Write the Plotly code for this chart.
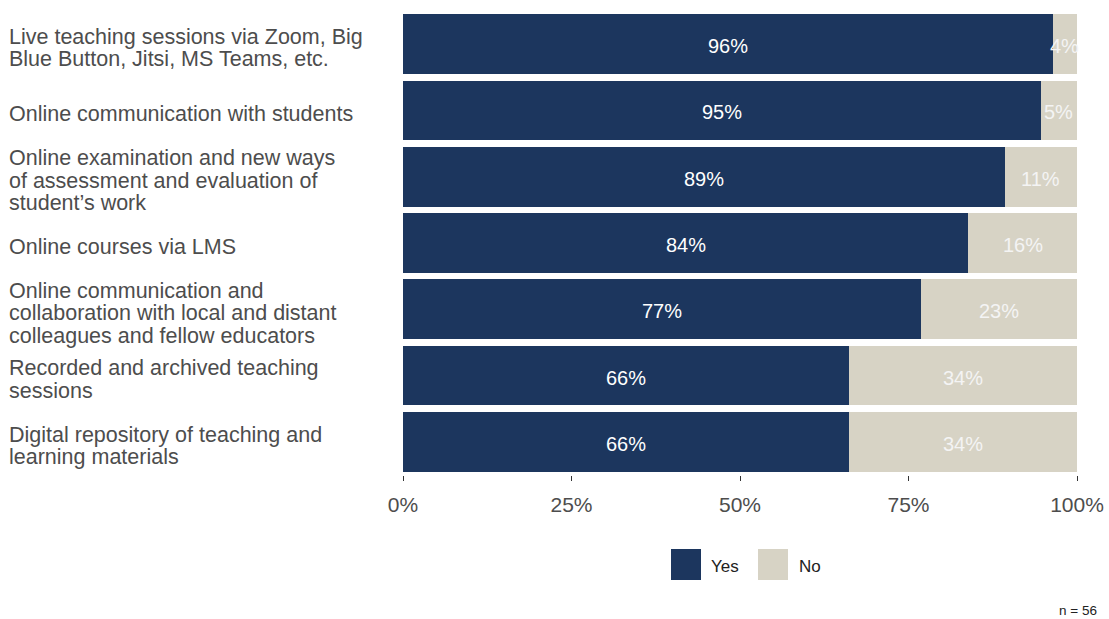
import plotly.graph_objects as go

categories = [
    "Live teaching sessions via Zoom, Big<br>Blue Button, Jitsi, MS Teams, etc.",
    "Online communication with students",
    "Online examination and new ways<br>of assessment and evaluation of<br>student\u2019s work",
    "Online courses via LMS",
    "Online communication and<br>collaboration with local and distant<br>colleagues and fellow educators",
    "Recorded and archived teaching<br>sessions",
    "Digital repository of teaching and<br>learning materials",
]
yes_vals = [96.4, 94.6, 89.3, 83.9, 76.8, 66.1, 66.1]
no_vals = [3.6, 5.4, 10.7, 16.1, 23.2, 33.9, 33.9]
yes_labels = ["96%", "95%", "89%", "84%", "77%", "66%", "66%"]
no_labels = ["4%", "5%", "11%", "16%", "23%", "34%", "34%"]
x_ticks = [0, 25, 50, 75, 100]
x_ticktext = ["0%", "25%", "50%", "75%", "100%"]

YES_COLOR = "#1c365e"
NO_COLOR = "#d7d3c5"
FONT = "Liberation Sans, Arial, sans-serif"

W, H = 1109, 619
ML, MR, MT, MB = 403, 32, 11, 144
PW = W - ML - MR
PH = H - MT - MB
LINE_H = 22.5

fig = go.Figure()
fig.add_trace(go.Bar(y=categories, x=yes_vals, orientation="h", name="Yes",
                     marker=dict(color=YES_COLOR, line=dict(width=0)), showlegend=False))
fig.add_trace(go.Bar(y=categories, x=no_vals, orientation="h", name="No",
                     marker=dict(color=NO_COLOR, line=dict(width=0)), showlegend=False))

annotations = []
for c, y, n, yl, nl in zip(categories, yes_vals, no_vals, yes_labels, no_labels):
    annotations.append(dict(x=y / 2, y=c, xref="x", yref="y", text=yl, showarrow=False,
                            yshift=-2, font=dict(color="white", size=20, family=FONT)))
    annotations.append(dict(x=y + n / 2, y=c, xref="x", yref="y", text=nl, showarrow=False,
                            yshift=-2, font=dict(color="#f4f4f4", size=20, family=FONT)))
    lines = c.split("<br>")
    k = len(lines)
    for i, line in enumerate(lines):
        annotations.append(dict(x=(7 - ML) / PW, y=c, xref="paper", yref="y", text=line,
                                showarrow=False, xanchor="left", align="left",
                                yshift=-(i - (k - 1) / 2) * LINE_H - 4,
                                font=dict(color="#4d4d4d", size=21.5, family=FONT)))

# legend drawn manually
def px_x(p):
    return (p - ML) / PW

def px_y(p):
    return (H - MB - p) / PH

shapes = [
    dict(type="rect", xref="paper", yref="paper", x0=px_x(671), x1=px_x(701),
         y0=px_y(580), y1=px_y(549), fillcolor=YES_COLOR, line=dict(width=0)),
    dict(type="rect", xref="paper", yref="paper", x0=px_x(758), x1=px_x(788),
         y0=px_y(580), y1=px_y(549), fillcolor=NO_COLOR, line=dict(width=0)),
]
annotations.append(dict(x=px_x(709), y=px_y(566), xref="paper", yref="paper", text="Yes",
                        showarrow=False, xanchor="left", yanchor="middle",
                        font=dict(size=17, color="#222", family=FONT)))
annotations.append(dict(x=px_x(797), y=px_y(566), xref="paper", yref="paper", text="No",
                        showarrow=False, xanchor="left", yanchor="middle",
                        font=dict(size=17, color="#222", family=FONT)))
annotations.append(dict(x=px_x(1099), y=px_y(610), xref="paper", yref="paper", text="n = 56",
                        showarrow=False, xanchor="right", yanchor="middle",
                        font=dict(size=13.5, color="#222", family=FONT)))

fig.update_layout(
    width=W, height=H,
    margin=dict(l=ML, r=MR, t=MT, b=MB, autoexpand=False),
    barmode="stack", bargap=0.1,
    plot_bgcolor="white", paper_bgcolor="white",
    font=dict(family=FONT),
    xaxis=dict(range=[0, 100], tickvals=x_ticks, ticktext=x_ticktext, showgrid=False,
               zeroline=False, showline=False, ticks="outside", ticklen=5, tickwidth=1,
               tickcolor="#333", tickfont=dict(size=21, color="#4d4d4d"),
               ticklabelstandoff=6, automargin=False, fixedrange=True),
    yaxis=dict(showticklabels=False, showgrid=False, zeroline=False, showline=False,
               automargin=False,
               autorange="reversed", categoryorder="array", categoryarray=categories),
    annotations=annotations, shapes=shapes,
)
fig.write_html("out.html")
